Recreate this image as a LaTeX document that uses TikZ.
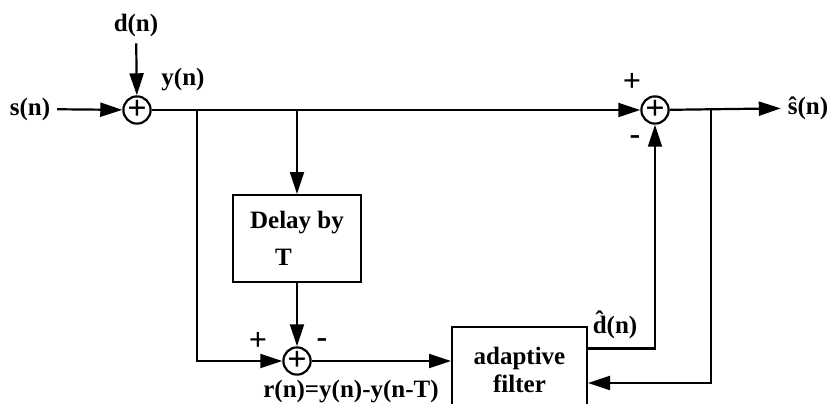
\documentclass[tikz,border=0pt]{standalone}
\usepackage{fontspec}
\setmainfont{Liberation Serif}
\usetikzlibrary{arrows.meta,positioning}
\begin{document}
\begin{tikzpicture}[x=0.5pt,y=-0.5pt,
  every node/.style={font=\bfseries\fontsize{12.5}{14}\selectfont},
  sumnode/.style={draw,circle,line width=1.1pt,minimum size=12.5pt,inner sep=0pt,font=\bfseries\fontsize{17}{17}\selectfont},
  signlabel/.style={font=\bfseries\fontsize{16}{16}\selectfont},
  blockbox/.style={draw,line width=1pt,minimum width=64pt,minimum height=43.5pt},
  sig/.style={line width=1.1pt},
  arr/.style={sig,-{Triangle[length=11pt,width=7pt]}}]
\clip (0,0) rectangle (829,403);
\node[sumnode] (sa) at (137,110) {+};
\node[sumnode] (sb) at (655,110) {+};
\node[sumnode] (sc) at (297,361) {+};
\node (sn) at (30,109) {s(n)};
\node (dn) at (136,25) {d(n)};
\node (yn) at (183,80) {y(n)};
\node (shat) at (808,108) {\^{s}(n)};
\node[blockbox,align=left] (delay) at (297,238.5) {Delay by\\[4.5pt]\hspace*{12.5pt}T};
\node[draw,line width=1pt,minimum width=67.5pt,minimum height=42.5pt,align=center] (filter) at (519.5,369.5) {adaptive\\filter};
\node (dhat) at (615,325) {\^{d}(n)};
\node[inner sep=1pt] (rn) at (351,392) {r(n)=y(n)-y(n-T)};
\node[signlabel] at (632,82) {+};
\node[signlabel] at (635,140) {-};
\node[signlabel] at (258,341) {+};
\node[signlabel] at (322,343) {-};
\coordinate (ba) at (197,110);
\coordinate (bb) at (297,110);
\coordinate (bc) at (711,110);
\draw[arr] (sn) -- (sa);
\draw[arr] (dn) -- (sa);
\draw[arr] (sa) -- (sb);
\draw[arr] (sb) -- (shat);
\draw[arr] (bb) -- (delay);
\draw[arr] (ba) |- (sc);
\draw[arr] (delay) -- (sc);
\draw[arr] (sc) -- (sc -| filter.west);
\draw[arr] ([yshift=10.5pt]filter.east) -| (sb);
\draw[arr] (bc) |- ([yshift=-6.75pt]filter.east);
\end{tikzpicture}
\end{document}
